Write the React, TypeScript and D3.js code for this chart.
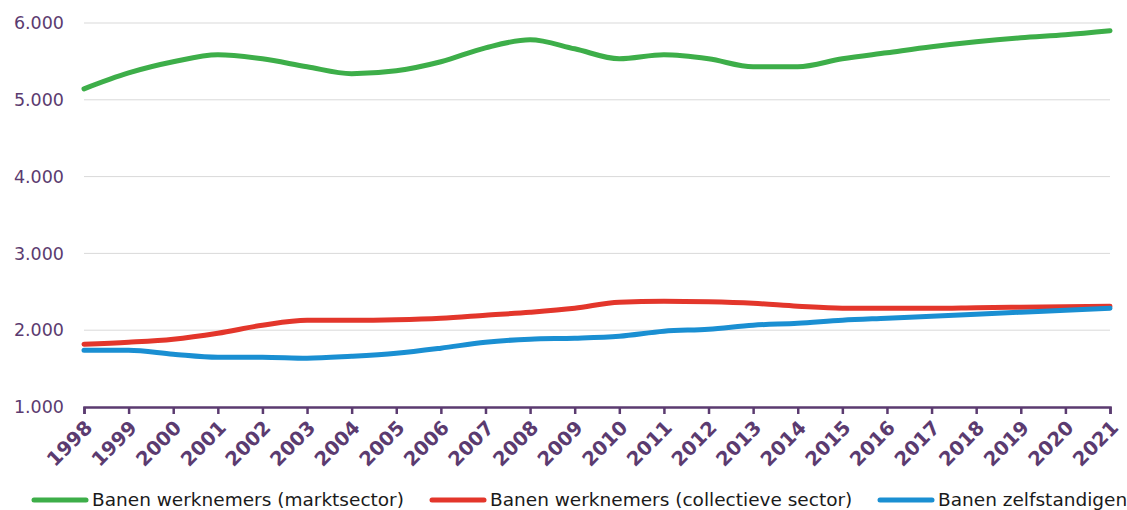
import { useEffect, useRef } from "react"
import * as d3 from "d3"

const years = d3.range(1998, 2022)

const marktsector = [
  5143, 5350, 5495, 5586, 5534, 5430, 5340, 5378, 5495, 5677, 5781, 5664, 5534, 5586, 5534, 5430,
  5430, 5534, 5612, 5690, 5755, 5807, 5846, 5898,
]
const collectief = [
  1818, 1844, 1883, 1961, 2065, 2130, 2130, 2137, 2156, 2195, 2234, 2286, 2365, 2378, 2370, 2350,
  2312, 2286, 2286, 2286, 2293, 2300, 2306, 2312,
]
const zelfstandigen = [
  1740, 1740, 1688, 1648, 1648, 1635, 1661, 1700, 1766, 1844, 1883, 1896, 1922, 1987, 2013, 2065,
  2091, 2130, 2156, 2182, 2208, 2234, 2260, 2286,
]

const yTicks = [1000, 2000, 3000, 4000, 5000, 6000]

const series = [
  { name: "Banen werknemers (marktsector)", values: marktsector, color: "#3dae49" },
  { name: "Banen werknemers (collectieve sector)", values: collectief, color: "#e3362b" },
  { name: "Banen zelfstandigen", values: zelfstandigen, color: "#1a8fd2" },
]

const legendX = [32, 430, 878]

export default function App() {
  const svgRef = useRef<SVGSVGElement>(null)

  useEffect(() => {
    if (!svgRef.current) return
    const svg = d3.select(svgRef.current)
    svg.selectAll("*").remove()

    const width = 1127
    const height = 510
    const margin = { top: 23, right: 17, bottom: 103, left: 84 }
    const purple = "#5b3b70"
    const font = "'DejaVu Sans', Verdana, sans-serif"

    const x = d3
      .scaleLinear()
      .domain([1998, 2021])
      .range([margin.left, width - margin.right])
    const y = d3
      .scaleLinear()
      .domain([1000, 6000])
      .range([height - margin.bottom, margin.top])

    // gridlines
    svg
      .append("g")
      .selectAll("line")
      .data(yTicks.slice(1))
      .join("line")
      .attr("x1", margin.left)
      .attr("x2", width - margin.right)
      .attr("y1", (d) => y(d))
      .attr("y2", (d) => y(d))
      .attr("stroke", "#d9d9d9")
      .attr("stroke-width", 1)

    // y labels
    svg
      .append("g")
      .selectAll("text")
      .data(yTicks)
      .join("text")
      .attr("x", 64)
      .attr("y", (d) => y(d))
      .attr("dy", "0.35em")
      .attr("text-anchor", "end")
      .attr("font-family", font)
      .attr("font-size", 17.5)
      .attr("fill", purple)
      .text((d) => d3.format(",")(d).replace(",", "."))

    // lines
    const line = d3
      .line<number>()
      .x((_, i) => x(years[i]))
      .y((d) => y(d))
      .curve(d3.curveMonotoneX)

    svg
      .append("g")
      .selectAll("path")
      .data(series)
      .join("path")
      .attr("d", (d) => line(d.values))
      .attr("fill", "none")
      .attr("stroke", (d) => d.color)
      .attr("stroke-width", 5)
      .attr("stroke-linecap", "round")

    // x axis
    const axisY = y(1000)
    const xAxis = svg.append("g").attr("transform", `translate(0,${axisY})`)
    xAxis
      .call(
        d3
          .axisBottom(x)
          .tickValues(years)
          .tickSize(7)
          .tickFormat((d) => String(d))
      )
      .call((g) => g.select(".domain").attr("stroke", purple).attr("stroke-width", 2.5))
      .call((g) => g.selectAll(".tick line").attr("stroke", purple).attr("stroke-width", 2.5))
    xAxis
      .selectAll(".tick text")
      .attr("y", 0)
      .attr("dy", 0)
      .attr("transform", "translate(9,22) rotate(-45)")
      .attr("text-anchor", "end")
      .attr("font-family", font)
      .attr("font-size", 19.5)
      .attr("font-weight", "bold")
      .attr("fill", purple)

    // legend
    const legend = svg
      .append("g")
      .selectAll("g")
      .data(series)
      .join("g")
      .attr("transform", (_, i) => `translate(${legendX[i]},500)`)
    legend
      .append("line")
      .attr("x1", 2)
      .attr("x2", 54)
      .attr("stroke", (d) => d.color)
      .attr("stroke-width", 5)
      .attr("stroke-linecap", "round")
    legend
      .append("text")
      .attr("x", 60)
      .attr("dy", "0.35em")
      .attr("font-family", font)
      .attr("font-size", 18.5)
      .attr("fill", "#1a1a1a")
      .text((d) => d.name)
  }, [])

  return (
    <svg
      ref={svgRef}
      width={1127}
      height={510}
      style={{ position: "absolute", left: 0, top: 0, background: "#fff" }}
    />
  )
}
